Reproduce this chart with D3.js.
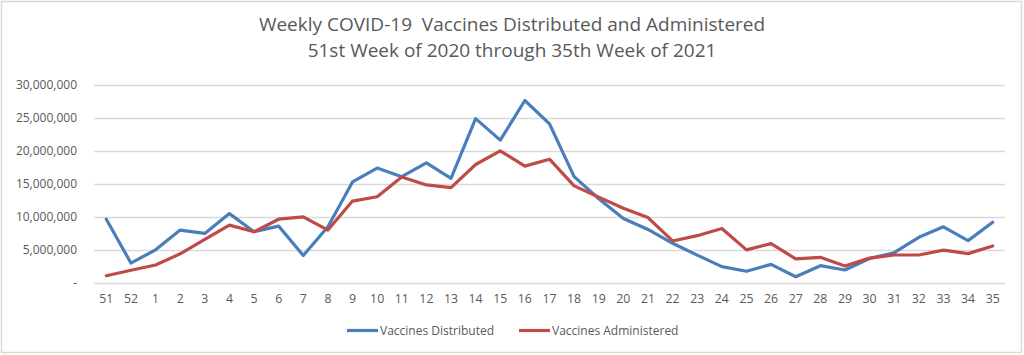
<!DOCTYPE html>
<html><head><meta charset="utf-8">
<script src="https://cdn.jsdelivr.net/npm/d3@7"></script>
<style>
html,body{margin:0;padding:0;background:#fff;}
svg{display:block;font-family:"Open Sans",Lato,sans-serif;}
</style></head>
<body><svg id="c" width="1024" height="355"></svg>
<script>
const weeks = ["51","52","1","2","3","4","5","6","7","8","9","10","11","12","13","14","15","16","17","18","19","20","21","22","23","24","25","26","27","28","29","30","31","32","33","34","35"];
const distributed = [9600000,2950000,4950000,7950000,7450000,10450000,7700000,8550000,4100000,8450000,15250000,17350000,16050000,18150000,15800000,24850000,21600000,27600000,24050000,16050000,12700000,9700000,8050000,5950000,4150000,2400000,1700000,2750000,880000,2550000,1900000,3650000,4520000,6850000,8450000,6350000,9150000];
const administered = [1030000,1850000,2650000,4350000,6550000,8700000,7700000,9600000,9950000,7950000,12350000,13000000,16000000,14800000,14400000,17900000,19950000,17650000,18700000,14650000,12950000,11250000,9850000,6300000,7100000,8200000,4950000,5900000,3580000,3820000,2500000,3700000,4170000,4170000,4900000,4380000,5550000];
const yTicks = [0,5000000,10000000,15000000,20000000,25000000,30000000];
const seriesNames = ["Vaccines Distributed","Vaccines Administered"];
const colors = ["#4A7EBB","#BE4B48"];
const titleLines = ["Weekly COVID-19  Vaccines Distributed and Administered","51st Week of 2020 through 35th Week of 2021"];

const svg = d3.select("#c");
svg.append("rect").attr("x",1.5).attr("y",1.5).attr("width",1020).attr("height",351)
  .attr("fill","#fff").attr("stroke","#d9d9d9").attr("stroke-width",1.5);

const x = d3.scaleBand().domain(weeks).range([94,1005]);
const y = d3.scaleLinear().domain([0,30000000]).range([282.5,84.7]);

svg.append("g").selectAll("line").data(yTicks).join("line")
  .attr("x1",94).attr("x2",1005).attr("y1",d=>Math.round(y(d))+0.5).attr("y2",d=>Math.round(y(d))+0.5)
  .attr("stroke","#d9d9d9").attr("stroke-width",1.3);

const fmt = d3.format(",");
svg.append("g").selectAll("text").data(yTicks).join("text")
  .attr("x",77).attr("y",d=>y(d)+4.5).attr("text-anchor","end")
  .attr("font-size",12).attr("fill","#595959")
  .text(d=>d===0?"-":fmt(d));

svg.append("g").selectAll("text").data(weeks).join("text")
  .attr("x",d=>x(d)+x.bandwidth()/2).attr("y",303).attr("text-anchor","middle")
  .attr("font-size",12.3).attr("fill","#595959").text(d=>d);

const line = d3.line().x((d,i)=>x(weeks[i])+x.bandwidth()/2).y(d=>y(d)).curve(d3.curveLinear);
[distributed,administered].forEach((s,k)=>{
  svg.append("path").datum(s).attr("d",line).attr("fill","none")
    .attr("stroke",colors[k]).attr("stroke-width",3.2).attr("stroke-linejoin","round").attr("stroke-linecap","round");
});

svg.append("g").selectAll("text").data(titleLines).join("text")
  .attr("x",512).attr("y",(d,i)=>31+i*26).attr("text-anchor","middle")
  .style("white-space","pre")
  .attr("font-size",19).attr("fill","#595959").text(d=>d);

const legX = [347,519];
seriesNames.forEach((n,k)=>{
  svg.append("line").attr("x1",legX[k]).attr("x2",legX[k]+31).attr("y1",330.5).attr("y2",330.5)
    .attr("stroke",colors[k]).attr("stroke-width",3.2);
  svg.append("text").attr("x",legX[k]+33).attr("y",334.5).attr("font-size",12).attr("fill","#595959").text(n);
});
</script></body></html>
